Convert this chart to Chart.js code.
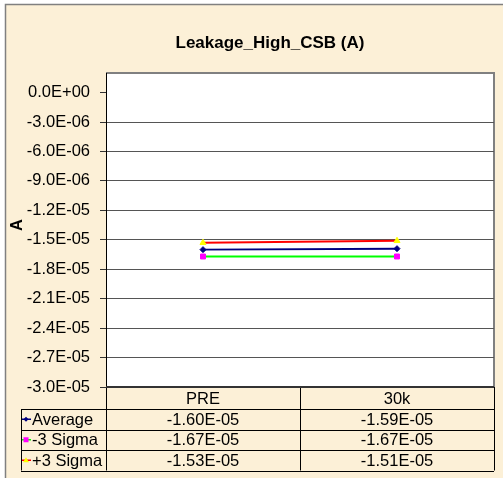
<!DOCTYPE html>
<html><head><meta charset="utf-8">
<script src="https://cdn.jsdelivr.net/npm/chart.js@4/dist/chart.umd.min.js"></script>
<style>html,body{margin:0;padding:0;background:#fff}#wrap{position:relative;width:503px;height:478px}</style>
</head><body><div id="wrap"><canvas id="c" width="503" height="478"></canvas></div>
<script>
const categories = ['PRE', '30k'];
const avgValues = [-1.60e-5, -1.59e-5];
const minus3Values = [-1.67e-5, -1.67e-5];
const plus3Values = [-1.53e-5, -1.51e-5];
const seriesNames = ['Average', '-3 Sigma', '+3 Sigma'];
const yTickValues = [0, -3e-6, -6e-6, -9e-6, -1.2e-5, -1.5e-5, -1.8e-5, -2.1e-5, -2.4e-5, -2.7e-5, -3e-5];
const chartTitle = 'Leakage_High_CSB (A)';
const yAxisTitle = 'A';

const FONT = '"Liberation Sans", Arial, sans-serif';
const PARCH = '#fcf0d7';

function fmtExp(v, d) {
  let s = Number(v).toExponential(d).toUpperCase();
  return s.replace(/E([+-])(\d)$/, 'E$10$2');
}

const seriesStyles = [
  { line: '#000080', marker: '#000080', style: 'rectRot', r: 3 },
  { line: '#00ff00', marker: '#ff00ff', style: 'rect', r: 3.5 },
  { line: '#ff0000', marker: '#ffff00', style: 'triangle', r: 3.5 }
];
const seriesData = [avgValues, minus3Values, plus3Values];

const bgPlugin = {
  id: 'bg',
  beforeDraw(chart) {
    const ctx = chart.ctx, W = chart.width, H = chart.height, a = chart.chartArea;
    ctx.save();
    ctx.fillStyle = '#ffffff'; ctx.fillRect(0, 0, W, H);
    ctx.fillStyle = PARCH; ctx.fillRect(5, 4, W - 5, H - 4);
    ctx.strokeStyle = '#808080'; ctx.lineWidth = 1.5;
    ctx.beginPath(); ctx.moveTo(5.5, H); ctx.lineTo(5.5, 4.5); ctx.lineTo(W, 4.5); ctx.stroke();
    ctx.fillStyle = '#ffffff'; ctx.fillRect(a.left, a.top, a.right - a.left, a.bottom - a.top);
    ctx.strokeStyle = '#808080'; ctx.lineWidth = 2;
    ctx.beginPath(); ctx.moveTo(a.left, a.top); ctx.lineTo(a.right, a.top); ctx.lineTo(a.right, a.bottom); ctx.stroke();
    ctx.restore();
  },
  afterDraw(chart) {
    const ctx = chart.ctx, a = chart.chartArea, xs = chart.scales.x;
    ctx.save();
    ctx.fillStyle = '#000';
    ctx.font = 'bold 17px ' + FONT;
    ctx.textAlign = 'center'; ctx.textBaseline = 'middle';
    ctx.fillText(chartTitle, 270, 43);
    ctx.save();
    ctx.translate(17, 225); ctx.rotate(-Math.PI / 2);
    ctx.font = 'bold 16.5px ' + FONT;
    ctx.fillText(yAxisTitle, 0, 0);
    ctx.restore();
    const rows = [a.bottom, a.bottom + 22, a.bottom + 42.5, a.bottom + 63, a.bottom + 83.5];
    const legLeft = 21;
    const colX = categories.map((c, i) => xs.getPixelForValue(i));
    const divs = [a.left];
    for (let i = 0; i < colX.length - 1; i++) divs.push((colX[i] + colX[i + 1]) / 2);
    divs.push(a.right);
    ctx.strokeStyle = '#000'; ctx.lineWidth = 1;
    ctx.beginPath();
    for (let r = 1; r < rows.length; r++) {
      const y = Math.round(rows[r]) + 0.5;
      ctx.moveTo(legLeft, y); ctx.lineTo(a.right, y);
    }
    ctx.moveTo(legLeft + 0.5, rows[1]); ctx.lineTo(legLeft + 0.5, rows[4]);
    divs.forEach(x => { ctx.moveTo(Math.round(x) + 0.5, rows[0]); ctx.lineTo(Math.round(x) + 0.5, rows[4]); });
    ctx.stroke();
    ctx.strokeStyle = '#333'; ctx.lineWidth = 2;
    ctx.beginPath(); ctx.moveTo(a.left, a.bottom); ctx.lineTo(a.right, a.bottom); ctx.stroke();
    ctx.font = '16.5px ' + FONT; ctx.fillStyle = '#000';
    ctx.textAlign = 'center'; ctx.textBaseline = 'middle';
    categories.forEach((c, i) => ctx.fillText(c, colX[i], (rows[0] + rows[1]) / 2 + 1));
    seriesNames.forEach((name, s) => {
      const yc = (rows[s + 1] + rows[s + 2]) / 2 + 1;
      seriesData[s].forEach((v, i) => {
        ctx.textAlign = 'center';
        ctx.fillText(fmtExp(v, 2), colX[i], yc);
      });
      const st = seriesStyles[s];
      ctx.strokeStyle = st.line; ctx.lineWidth = 1.5;
      ctx.beginPath(); ctx.moveTo(legLeft + 1, yc - 1); ctx.lineTo(legLeft + 10, yc - 1); ctx.stroke();
      ctx.fillStyle = st.marker;
      const mx = legLeft + 5, my = yc - 1;
      ctx.beginPath();
      if (st.style === 'rectRot') { ctx.moveTo(mx, my - 2.5); ctx.lineTo(mx + 2.5, my); ctx.lineTo(mx, my + 2.5); ctx.lineTo(mx - 2.5, my); }
      else if (st.style === 'rect') { ctx.rect(mx - 2.5, my - 2.5, 5, 5); }
      else { ctx.moveTo(mx, my - 3); ctx.lineTo(mx + 3, my + 2); ctx.lineTo(mx - 3, my + 2); }
      ctx.closePath(); ctx.fill();
      ctx.fillStyle = '#000'; ctx.textAlign = 'left';
      ctx.fillText(name, legLeft + 11, yc);
    });
    ctx.restore();
  }
};

new Chart(document.getElementById('c'), {
  type: 'line',
  data: {
    labels: categories,
    datasets: seriesNames.map((n, s) => ({
      label: n,
      data: seriesData[s],
      borderColor: seriesStyles[s].line,
      borderWidth: 2,
      pointStyle: seriesStyles[s].style,
      pointRadius: seriesStyles[s].r,
      pointBackgroundColor: seriesStyles[s].marker,
      pointBorderColor: seriesStyles[s].marker,
      pointBorderWidth: 1,
      tension: 0,
      fill: false
    }))
  },
  options: {
    responsive: false,
    devicePixelRatio: 1,
    animation: false,
    layout: { padding: { left: 0, top: 73, right: 9, bottom: 91 } },
    plugins: { legend: { display: false }, tooltip: { enabled: false }, title: { display: false } },
    scales: {
      x: { type: 'category', offset: true, display: false },
      y: {
        min: -3e-5, max: 2e-6,
        afterBuildTicks(scale) { scale.ticks = yTickValues.map(v => ({ value: v })); },
        afterFit(scale) { scale.width = 106; },
        grid: {
          color: (c) => (c.tick && c.tick.value === 0) ? 'rgba(0,0,0,0)' : '#555',
          lineWidth: 1, tickLength: 6, drawTicks: true, tickColor: '#333'
        },
        border: { display: true, color: '#000', width: 1 },
        ticks: {
          color: '#000', padding: 10,
          font: { family: FONT, size: 16.5 },
          callback: (v) => fmtExp(v, 1)
        }
      }
    }
  },
  plugins: [bgPlugin]
});
</script></body></html>
